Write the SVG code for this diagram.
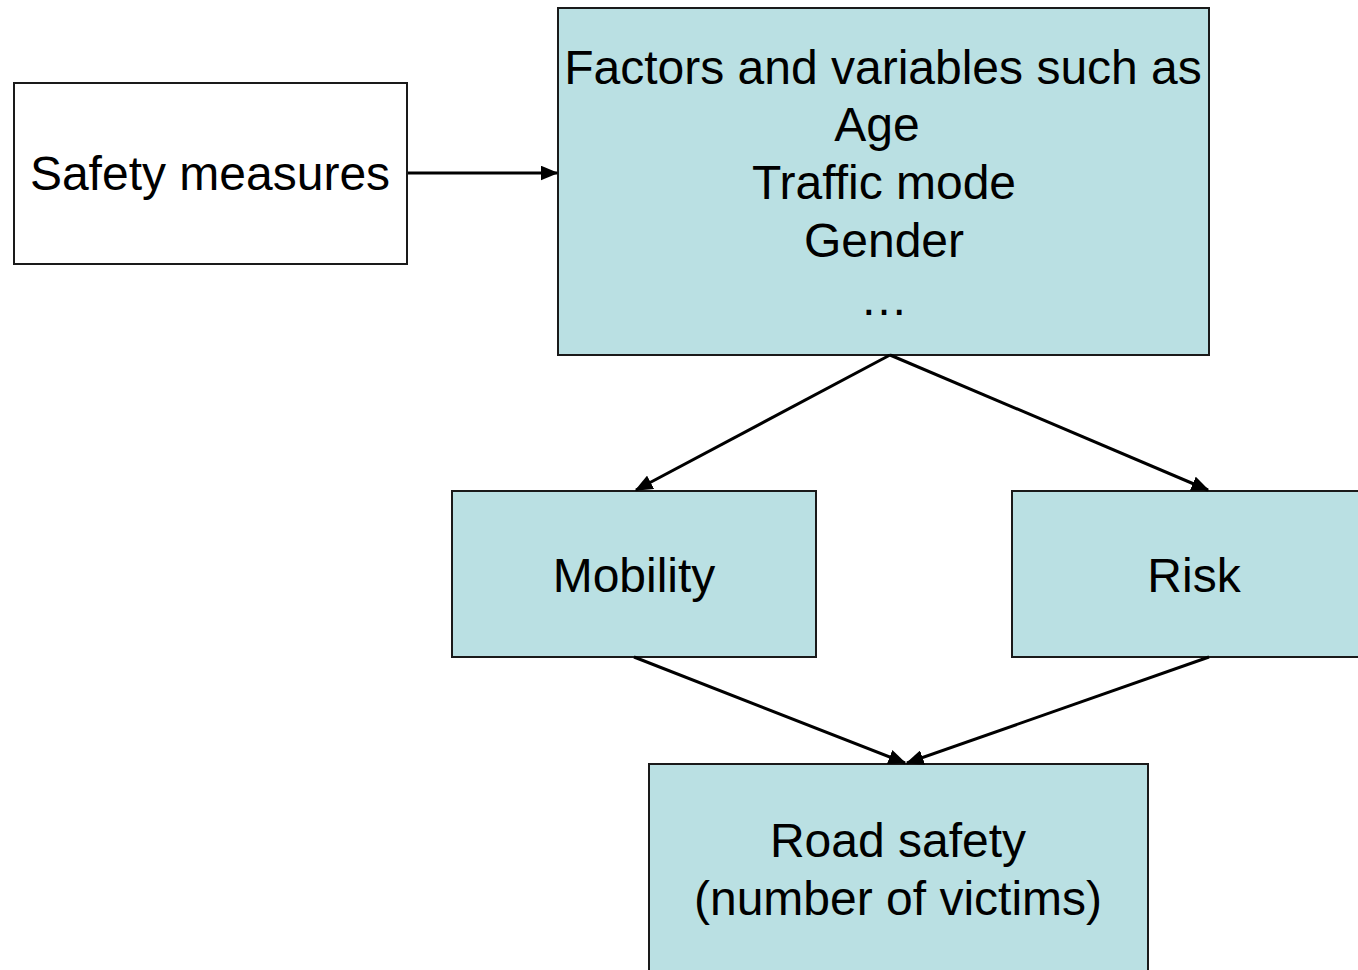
<svg xmlns="http://www.w3.org/2000/svg" width="1358" height="970" viewBox="0 0 1358 970">
<style>
.box{fill:#bae0e3;stroke:#1a1a1a;stroke-width:2}
.wbox{fill:#ffffff;stroke:#1a1a1a;stroke-width:2}
.t{font-family:"Liberation Sans",Arial,sans-serif;font-size:48px;fill:#000;text-anchor:middle}
.c{stroke:#000;stroke-width:3;fill:none;marker-end:url(#ah)}
</style>
<defs>
<marker id="ah" markerWidth="6" markerHeight="5" refX="5.5" refY="2.5" orient="auto" markerUnits="strokeWidth">
<path d="M0,0 L6,2.5 L0,5 Z" fill="#000"/>
</marker>
</defs>
<rect width="1358" height="970" fill="#fff"/>
<g id="safety">
<rect class="wbox" x="14" y="83" width="393" height="181"/>
<text class="t" x="210" y="190">Safety measures</text>
</g>
<g id="factors">
<rect class="box" x="558" y="8" width="651" height="347"/>
<text class="t" x="883" y="84">Factors and variables such as</text>
<text class="t" x="877" y="141">Age</text>
<text class="t" x="884" y="199">Traffic mode</text>
<text class="t" x="884" y="257">Gender</text>
<text class="t" x="884" y="315">…</text>
</g>
<g id="mobility">
<rect class="box" x="452" y="491" width="364" height="166"/>
<text class="t" x="634" y="592">Mobility</text>
</g>
<g id="risk">
<rect class="box" x="1012" y="491" width="350" height="166"/>
<text class="t" x="1194" y="592">Risk</text>
</g>
<g id="roadsafety">
<rect class="box" x="649" y="764" width="499" height="212"/>
<text class="t" x="898" y="857">Road safety</text>
<text class="t" x="898" y="915">(number of victims)</text>
</g>
<g id="connectors">
<line class="c" x1="408" y1="173" x2="557" y2="173"/>
<line class="c" x1="890" y1="355" x2="636" y2="490"/>
<line class="c" x1="890" y1="355" x2="1208" y2="490"/>
<line class="c" x1="634" y1="657" x2="905" y2="763"/>
<line class="c" x1="1209" y1="657" x2="907" y2="763"/>
</g>
</svg>
